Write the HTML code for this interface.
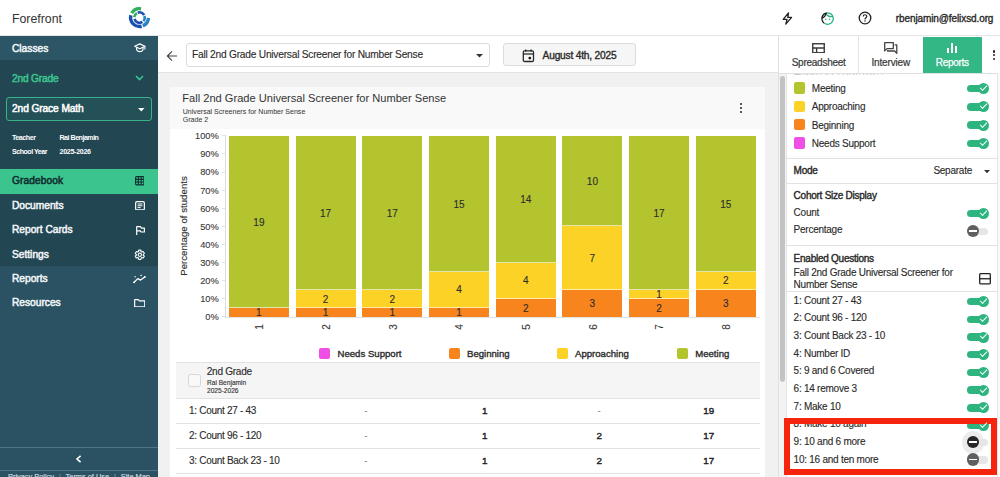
<!DOCTYPE html>
<html><head><meta charset="utf-8">
<style>
*{box-sizing:border-box;margin:0;padding:0}
html,body{width:1000px;height:477px;overflow:hidden;background:#fff;font-family:"Liberation Sans",Arial,sans-serif;color:#222}
.a{position:absolute}
.t{position:absolute;white-space:nowrap;line-height:1}
/* header */
#hdr{left:0;top:0;width:1000px;height:36px;background:#fff;border-bottom:1px solid #e6e6e6}
/* sidebar */
#sb{left:0;top:36px;width:158px;height:441px;background:#2a5262}
.sbrow{position:absolute;left:0;width:158px;height:24.5px}
.sbtxt{position:absolute;left:12px;color:#f2f6f7;-webkit-text-stroke:0.5px #f2f6f7;font-size:10.2px;letter-spacing:0px;line-height:1;white-space:nowrap;margin-top:-0.2px}
/* main */
#sub{left:158px;top:36px;width:620px;height:37px;background:#fff;border-bottom:1px solid #e3e3e3}
#main{left:158px;top:73px;width:620px;height:404px;background:#f1f1f1}
#card{left:169.5px;top:86.5px;width:595px;height:400px;background:#fff}
/* right panel */
#rp{left:778px;top:36px;width:222px;height:441px;background:#fff;border-left:1px solid #e0e0e0}
.sw{position:absolute;left:793.5px;width:11.4px;height:11.3px;border-radius:2px}
.pt{position:absolute;left:793.6px;margin-top:-0.4px;font-size:10px;letter-spacing:-0.25px;line-height:10px;color:#2b2b2b;-webkit-text-stroke:0.12px #2b2b2b;white-space:nowrap}
.pt.md{-webkit-text-stroke:0.4px #2b2b2b}
.sw+.pt{left:811.8px}
.ton,.toff{position:absolute;left:966.8px;width:21.5px;height:7.6px;margin-top:-3.5px;border-radius:3.8px;background:#2eb47f}
.ton::after{content:"";position:absolute;left:11px;top:-1.7px;width:11px;height:11px;border-radius:50%;background:#2eb47f}
.ton::before{content:"";position:absolute;z-index:2;left:13.2px;top:0.3px;width:6.2px;height:2.9px;border-left:1.7px solid #fff;border-bottom:1.7px solid #fff;transform:rotate(-45deg)}
.toff{background:#e6e6e6}
.toff::after{content:"";position:absolute;left:0px;top:-2.9px;width:12.2px;height:12.2px;border-radius:50%;background:#5f5f5f}
.toff::before{content:"";position:absolute;z-index:2;left:2.4px;top:2.5px;width:7.4px;height:1.6px;background:#fff}
.toff.dark::after{background:#262626}
.bar{position:absolute;box-shadow:inset 0 -1px 0 rgba(255,255,255,0.6)}
.bar.bt{box-shadow:none}
.bl{position:absolute;width:60px;margin-top:0.8px;text-align:center;font-size:10px;line-height:10px;color:#2e2e2e;-webkit-text-stroke:0.12px #2e2e2e}
.xl{position:absolute;width:10px;text-align:center;font-size:10px;line-height:10px;color:#383838;-webkit-text-stroke:0.1px #383838;transform:rotate(-90deg)}
.yl{position:absolute;left:186px;width:32.8px;text-align:right;font-size:9.3px;line-height:10px;color:#383838;-webkit-text-stroke:0.1px #383838}
.lg{position:absolute;top:348.2px;width:11px;height:11px;border-radius:2px}
.lt{position:absolute;top:349px;font-size:9.6px;line-height:10px;color:#2b2b2b;-webkit-text-stroke:0.35px #2b2b2b;white-space:nowrap}
.tc{position:absolute;width:20px;margin-left:-10px;text-align:center;font-size:9.8px;line-height:1;color:#222;-webkit-text-stroke:0.4px #222}
</style></head><body>

<!-- HEADER -->
<div id="hdr" class="a"></div>
<div class="t" style="left:12px;top:12.9px;font-size:12.3px;color:#333">Forefront</div>
<svg class="a" style="left:126px;top:4px" width="28" height="28" viewBox="0 0 28 28">
  <g fill="none">
<path d="M5.79 9.15 A8.9 8.9 0 0 1 15.05 4.84" stroke="#2fae5c" stroke-width="3.4"/>
<path d="M15.65 22.24 A8.9 8.9 0 0 1 4.90 11.30" stroke="#1d4fae" stroke-width="3.4"/>
<path d="M22.39 13.91 A8.9 8.9 0 0 1 16.83 21.85" stroke="#2b83c4" stroke-width="3.4"/>
<path d="M8.33 13.06 A5.2 5.2 0 0 1 10.90 9.10" stroke="#2fae5c" stroke-width="2.6"/>
<path d="M11.72 8.71 A5.2 5.2 0 0 1 18.09 11.16" stroke="#1d4fae" stroke-width="2.6"/>
<path d="M18.45 11.99 A5.2 5.2 0 0 1 17.36 17.08" stroke="#2b83c4" stroke-width="2.6"/>
<path d="M16.41 17.91 A5.2 5.2 0 0 1 8.48 14.95" stroke="#1d4fae" stroke-width="2.6"/>
  </g>
</svg>
<!-- header icons -->
<svg class="a" style="left:782px;top:12px" width="11" height="13" viewBox="0 0 11 13">
  <path d="M6.5 0.8 L1.2 7.4 H5 L3.8 12.2 L9.6 5.4 H5.8 Z" fill="none" stroke="#222" stroke-width="1.3" stroke-linejoin="round"/>
</svg>
<svg class="a" style="left:819.7px;top:10.5px" width="15.2" height="15.2" viewBox="0 0 24 24">
  <defs><linearGradient id="fg" x1="0" y1="0" x2="1" y2="0.25"><stop offset="0.43" stop-color="#1e1e1e"/><stop offset="0.43" stop-color="#27b07a"/></linearGradient></defs>
  <path fill="url(#fg)" d="M10.25 13c0 .69-.56 1.25-1.25 1.25S7.75 13.690 7.750 13s.56-1.25 1.25-1.25 1.25.56 1.25 1.25zM15 11.75c-.69 0-1.25.56-1.25 1.25s.56 1.25 1.25 1.25 1.25-.56 1.25-1.25-.56-1.25-1.25-1.25zm7 .25c0 5.52-4.48 10-10 10S2 17.52 2 12 6.48 2 12 2s10 4.48 10 10zM10.66 4.12C12.06 6.44 14.6 8 17.5 8c.46 0 .91-.05 1.34-.12C17.44 5.56 14.9 4 12 4c-.46 0-.91.05-1.340.12zM4.42 9.47c1.71-.97 3.03-2.55 3.66-4.44C6.37 6 5.05 7.58 4.42 9.47zM20 12c0-.78-.12-1.53-.33-2.24-.7.15-1.42.24-2.17.24-3.13 0-5.92-1.44-7.76-3.690C8.69 8.87 6.6 10.88 4 11.86c.01.04 0 .09 0 .14 0 4.41 3.59 8 8 8s8-3.59 8-8z"/>
</svg>
<svg class="a" style="left:857.8px;top:10.9px" width="14" height="14" viewBox="0 0 14 14">
  <circle cx="7" cy="7" r="5.8" fill="none" stroke="#222" stroke-width="1.3"/>
  <path d="M5.2 5.4 C5.2 3.2 8.8 3.2 8.8 5.3 C8.8 6.8 7 6.8 7 8.4" fill="none" stroke="#222" stroke-width="1.2"/>
  <circle cx="7" cy="10.1" r="0.75" fill="#222"/>
</svg>
<div class="t" style="left:895.8px;top:14px;font-size:10px;letter-spacing:-0.1px;color:#2a2a2a;-webkit-text-stroke:0.35px #2a2a2a">rbenjamin@felixsd.org</div>

<!-- SIDEBAR -->
<div id="sb" class="a"></div>
<div class="sbrow" style="top:36px;height:24px;background:#2c5565"></div>
<div class="sbtxt" style="top:44px">Classes</div>
<div class="a" style="left:0;top:60px;width:158px;height:206px;background:#234653"></div>
<div class="t" style="left:12px;top:74.4px;font-size:10.2px;letter-spacing:-0.2px;color:#3cc48e;-webkit-text-stroke:0.5px #3cc48e">2nd Grade</div>
<div class="a" style="left:6px;top:97.1px;width:145.6px;height:24.2px;border:1px solid #35b487;border-radius:3px;background:#245058"></div>
<div class="t" style="left:12px;top:103.6px;font-size:10.2px;letter-spacing:-0.1px;color:#fff;-webkit-text-stroke:0.5px #fff">2nd Grace Math</div>
<div class="t" style="left:12px;top:135px;font-size:7.1px;color:#fff;font-weight:bold;letter-spacing:-0.45px">Teacher</div>
<div class="t" style="left:59.5px;top:135px;font-size:7.1px;color:#fff;font-weight:bold;letter-spacing:-0.5px">Rai Benjamin</div>
<div class="t" style="left:12px;top:149.2px;font-size:7.1px;color:#fff;font-weight:bold;letter-spacing:-0.5px">School Year</div>
<div class="t" style="left:59.5px;top:149.3px;font-size:7.1px;color:#fff;font-weight:bold;letter-spacing:-0.3px">2025-2026</div>
<div class="a" style="left:0;top:169px;width:158px;height:24.5px;background:#3cc48f"></div>
<div class="sbtxt" style="top:176.2px;color:#0f2a2c;-webkit-text-stroke:0.5px #0f2a2c;letter-spacing:0.1px">Gradebook</div>
<div class="sbtxt" style="top:201px">Documents</div>
<div class="sbtxt" style="top:225.5px">Report Cards</div>
<div class="sbtxt" style="top:250px">Settings</div>
<div class="sbtxt" style="top:274.5px">Reports</div>
<div class="sbtxt" style="top:298.5px">Resources</div>
<!-- sidebar icons -->
<svg class="a" style="left:134px;top:43.4px" width="12" height="10" viewBox="0 0 12 10">
  <path d="M5.8 0.9 L10.9 3.3 L5.8 5.7 L0.7 3.3 Z" fill="none" stroke="#fff" stroke-width="1.2" stroke-linejoin="round"/>
  <path d="M2.6 4.3 V6.7 C3.9 9.3 7.7 9.3 9 6.7 V4.3" fill="none" stroke="#fff" stroke-width="1.2"/>
  <path d="M10.9 3.3 V6.6" stroke="#fff" stroke-width="1.1"/>
</svg>
<svg class="a" style="left:135px;top:75.1px" width="9" height="6" viewBox="0 0 9 6"><path d="M1 1 L4.5 4.5 L8 1" fill="none" stroke="#3cc48e" stroke-width="1.6"/></svg>
<svg class="a" style="left:138.3px;top:108px" width="6.5" height="4" viewBox="0 0 6.5 4"><path d="M0 0 H6.5 L3.25 3.6 Z" fill="#fff"/></svg>
<svg class="a" style="left:134.8px;top:176.4px" width="9.6" height="9.4" viewBox="0 0 9.6 9.4">
  <rect x="0.6" y="0.6" width="8.4" height="8.2" rx="1" fill="none" stroke="#10302f" stroke-width="1.2"/>
  <path d="M3.4 0.6 V8.8 M6.2 0.6 V8.8 M0.6 3.35 H9 M0.6 6.05 H9" stroke="#10302f" stroke-width="1.1"/>
</svg>
<svg class="a" style="left:134.6px;top:200.9px" width="10" height="9.6" viewBox="0 0 10 9.6">
  <rect x="0.65" y="0.65" width="8.7" height="8.3" rx="1.3" fill="none" stroke="#fff" stroke-width="1.2"/>
  <path d="M2.6 3 H7.4 M2.6 4.8 H7.4 M2.6 6.6 H5.6" stroke="#fff" stroke-width="1"/>
</svg>
<svg class="a" style="left:136px;top:225.9px" width="9" height="9" viewBox="0 0 9 9">
  <path d="M0.7 9 V0.7 H4.6 L5.3 2.1 H8.4 V6 H5 L4.4 4.8 H0.7" fill="none" stroke="#fff" stroke-width="1.2" stroke-linejoin="round"/>
</svg>
<svg class="a" style="left:134.2px;top:248.5px" width="11.6" height="11.6" viewBox="0 0 24 24">
  <path fill="none" stroke="#fff" stroke-width="2.3" stroke-linejoin="round" d="M19.14 12.94c.04-.3.06-.61.06-.94 0-.32-.02-.64-.07-.94l2.03-1.58a.49.49 0 0 0 .12-.61l-1.92-3.32a.488.488 0 0 0-.59-.22l-2.39.96c-.5-.38-1.03-.7-1.62-.94l-.36-2.54a.484.484 0 0 0-.48-.41h-3.84c-.24 0-.43.17-.47.41l-.36 2.54c-.59.24-1.130.57-1.62.94l-2.39-.96c-.22-.08-.47 0-.59.22L2.74 8.870c-.12.21-.08.47.12.61l2.03 1.58c-.05.3-.09.63-.09.94s.02.64.07.94l-2.03 1.58a.49.49 0 0 0-.12.61l1.92 3.32c.12.22.37.29.59.22l2.39-.96c.5.38 1.03.7 1.62.94l.36 2.54c.05.24.24.41.48.41h3.84c.24 0 .44-.17.47-.41l.36-2.54c.59-.24 1.13-.56 1.62-.94l2.39.96c.22.08.47 0 .59-.22l1.92-3.32c.12-.22.07-.47-.12-.61l-2.01-1.58z"/>
  <circle cx="12" cy="12" r="3.4" fill="none" stroke="#fff" stroke-width="2.2"/>
</svg>
<svg class="a" style="left:132px;top:272px" width="15" height="13" viewBox="0 0 15 13">
  <path d="M2.1 10.3 L5.8 6.6 L8.6 8.1 L12.8 5" fill="none" stroke="#fff" stroke-width="1.3" stroke-linejoin="round" stroke-linecap="round"/>
  <circle cx="2.1" cy="10.3" r="0.9" fill="#fff"/><circle cx="12.8" cy="5" r="0.9" fill="#fff"/>
  <circle cx="3.1" cy="4.8" r="0.7" fill="#fff"/>
  <path d="M9.1 2.2 L9.5 3 L10.3 3.4 L9.5 3.8 L9.1 4.6 L8.7 3.8 L7.9 3.4 L8.7 3 Z" fill="#fff"/>
</svg>
<svg class="a" style="left:134px;top:298.5px" width="11.4" height="8.6" viewBox="0 0 11.4 8.6">
  <path d="M0.65 0.65 H4.3 L5.4 1.9 H10.75 V7.95 H0.65 Z" fill="none" stroke="#fff" stroke-width="1.2" stroke-linejoin="round"/>
</svg>
<svg class="a" style="left:75px;top:454.8px" width="7" height="8" viewBox="0 0 7 8"><path d="M5.6 0.8 L2 4 L5.6 7.2" fill="none" stroke="#fff" stroke-width="1.6"/></svg>
<!-- sidebar footer -->
<div class="a" style="left:0;top:446.8px;width:158px;height:1px;background:#4c7683"></div>
<div class="a" style="left:0;top:470px;width:158px;height:1px;background:#4c7683"></div>
<div class="t" style="left:8px;top:472.6px;font-size:7.4px;color:#d4dfe2;-webkit-text-stroke:0.15px #d4dfe2">Privacy Policy</div>
<div class="t" style="left:59px;top:472.6px;font-size:7.4px;color:#8aa6ae">|</div>
<div class="t" style="left:65.6px;top:472.6px;font-size:7.4px;color:#d4dfe2;-webkit-text-stroke:0.15px #d4dfe2">Terms of Use</div>
<div class="t" style="left:114px;top:472.6px;font-size:7.4px;color:#8aa6ae">|</div>
<div class="t" style="left:120.8px;top:472.6px;font-size:7.4px;color:#d4dfe2;-webkit-text-stroke:0.15px #d4dfe2">Site Map</div>

<!-- SUBHEADER -->
<div id="sub" class="a" style="height:37.4px"></div>
<svg class="a" style="left:166px;top:49.5px" width="12" height="12" viewBox="0 0 12 12">
  <path d="M11 6 H1.6 M6 1.4 L1.4 6 L6 10.6" fill="none" stroke="#444" stroke-width="1.2"/>
</svg>
<div class="a" style="left:185.5px;top:43.3px;width:304px;height:23.5px;border:1px solid #dcdcdc;border-radius:3px;background:#fff"></div>
<div class="t" style="left:192px;top:50.4px;font-size:10.2px;letter-spacing:-0.23px;color:#2b2b2b;-webkit-text-stroke:0.12px #2b2b2b">Fall 2nd Grade Universal Screener for Number Sense</div>
<svg class="a" style="left:476px;top:53.5px" width="7" height="4" viewBox="0 0 7 4"><path d="M0 0 H7 L3.5 3.6 Z" fill="#333"/></svg>
<div class="a" style="left:502.8px;top:43.3px;width:133px;height:23.2px;border:1px solid #dcdcdc;border-radius:3px;background:#f6f6f6"></div>
<svg class="a" style="left:522.3px;top:49px" width="13" height="14" viewBox="0 0 13 14">
  <rect x="1.3" y="1.9" width="10.2" height="10.6" rx="1.3" fill="none" stroke="#2a2a2a" stroke-width="1.3"/>
  <path d="M1.3 5 H11.5" stroke="#2a2a2a" stroke-width="1.3"/>
  <path d="M3.7 0.5 V2.5 M9.1 0.5 V2.5" stroke="#2a2a2a" stroke-width="1.4"/>
  <circle cx="7.8" cy="9.1" r="1.35" fill="#111"/>
</svg>
<div class="t" style="left:542.6px;top:50.8px;font-size:10.2px;letter-spacing:-0.2px;color:#2a2a2a;-webkit-text-stroke:0.35px #2a2a2a">August 4th, 2025</div>
<div id="main" class="a"></div>

<!-- CARD -->
<div id="card" class="a"></div>
<div class="a" style="left:169.5px;top:86.5px;width:595px;height:42.3px;background:#f9f9f9"></div>
<div class="t" style="left:182.3px;top:93.4px;font-size:11.1px;color:#333">Fall 2nd Grade Universal Screener for Number Sense</div>
<div class="t" style="left:182.8px;top:107.9px;font-size:7px;letter-spacing:0.02px;color:#3a3a3a;-webkit-text-stroke:0.05px #3a3a3a">Universal Screeners for Number Sense</div>
<div class="t" style="left:182.8px;top:116.4px;font-size:7px;letter-spacing:0.02px;color:#3a3a3a;-webkit-text-stroke:0.05px #3a3a3a">Grade 2</div>
<div class="a" style="left:739.5px;top:102.5px;width:2.8px;height:2.8px;border-radius:50%;background:#222"></div>
<div class="a" style="left:739.5px;top:106.6px;width:2.8px;height:2.8px;border-radius:50%;background:#222"></div>
<div class="a" style="left:739.5px;top:110.7px;width:2.8px;height:2.8px;border-radius:50%;background:#222"></div>
<!-- chart -->
<div id="chart">
<div class="yl" style="top:312.20px">0%</div>
<div class="a" style="left:222.3px;top:316.30px;width:3px;height:1px;background:#e2e2e2"></div>
<div class="yl" style="top:294.11px">10%</div>
<div class="a" style="left:222.3px;top:298.21px;width:3px;height:1px;background:#e2e2e2"></div>
<div class="yl" style="top:276.02px">20%</div>
<div class="a" style="left:222.3px;top:280.12px;width:3px;height:1px;background:#e2e2e2"></div>
<div class="yl" style="top:257.93px">30%</div>
<div class="a" style="left:222.3px;top:262.03px;width:3px;height:1px;background:#e2e2e2"></div>
<div class="yl" style="top:239.84px">40%</div>
<div class="a" style="left:222.3px;top:243.94px;width:3px;height:1px;background:#e2e2e2"></div>
<div class="yl" style="top:221.75px">50%</div>
<div class="a" style="left:222.3px;top:225.85px;width:3px;height:1px;background:#e2e2e2"></div>
<div class="yl" style="top:203.66px">60%</div>
<div class="a" style="left:222.3px;top:207.76px;width:3px;height:1px;background:#e2e2e2"></div>
<div class="yl" style="top:185.57px">70%</div>
<div class="a" style="left:222.3px;top:189.67px;width:3px;height:1px;background:#e2e2e2"></div>
<div class="yl" style="top:167.48px">80%</div>
<div class="a" style="left:222.3px;top:171.58px;width:3px;height:1px;background:#e2e2e2"></div>
<div class="yl" style="top:149.39px">90%</div>
<div class="a" style="left:222.3px;top:153.49px;width:3px;height:1px;background:#e2e2e2"></div>
<div class="yl" style="top:131.30px">100%</div>
<div class="a" style="left:222.3px;top:135.40px;width:3px;height:1px;background:#e2e2e2"></div>
<div class="a" style="left:224.8px;top:135.4px;width:1px;height:181.9px;background:#dcdcdc"></div>
<div class="a" style="left:225px;top:316.5px;width:535px;height:1px;background:#e2e2e2"></div>
<div class="t" style="left:183.6px;top:225.7px;font-size:9.7px;color:#2e2e2e;-webkit-text-stroke:0.12px #2e2e2e;transform:translate(-50%,-50%) rotate(-90deg)">Percentage of students</div>
<div class="bar bt" style="left:228.9px;top:307.75px;width:60px;height:9.05px;background:#f7841d"></div>
<div class="bl" style="left:228.9px;top:307.28px">1</div>
<div class="bar tp" style="left:228.9px;top:135.90px;width:60px;height:171.85px;background:#b4c42e"></div>
<div class="bl" style="left:228.9px;top:216.83px">19</div>
<div class="xl" style="left:255.2px;top:322.2px">1</div>
<div class="bar bt" style="left:295.6px;top:307.75px;width:60px;height:9.05px;background:#f7841d"></div>
<div class="bl" style="left:295.6px;top:307.28px">1</div>
<div class="bar" style="left:295.6px;top:289.67px;width:60px;height:18.09px;background:#fcd226"></div>
<div class="bl" style="left:295.6px;top:293.71px">2</div>
<div class="bar tp" style="left:295.6px;top:135.90px;width:60px;height:153.77px;background:#b4c42e"></div>
<div class="bl" style="left:295.6px;top:207.78px">17</div>
<div class="xl" style="left:321.9px;top:322.2px">2</div>
<div class="bar bt" style="left:362.3px;top:307.75px;width:60px;height:9.05px;background:#f7841d"></div>
<div class="bl" style="left:362.3px;top:307.28px">1</div>
<div class="bar" style="left:362.3px;top:289.67px;width:60px;height:18.09px;background:#fcd226"></div>
<div class="bl" style="left:362.3px;top:293.71px">2</div>
<div class="bar tp" style="left:362.3px;top:135.90px;width:60px;height:153.77px;background:#b4c42e"></div>
<div class="bl" style="left:362.3px;top:207.78px">17</div>
<div class="xl" style="left:388.6px;top:322.2px">3</div>
<div class="bar bt" style="left:429.0px;top:307.75px;width:60px;height:9.05px;background:#f7841d"></div>
<div class="bl" style="left:429.0px;top:307.28px">1</div>
<div class="bar" style="left:429.0px;top:271.57px;width:60px;height:36.18px;background:#fcd226"></div>
<div class="bl" style="left:429.0px;top:284.66px">4</div>
<div class="bar tp" style="left:429.0px;top:135.90px;width:60px;height:135.67px;background:#b4c42e"></div>
<div class="bl" style="left:429.0px;top:198.74px">15</div>
<div class="xl" style="left:455.3px;top:322.2px">4</div>
<div class="bar bt" style="left:495.7px;top:298.71px;width:60px;height:18.09px;background:#f7841d"></div>
<div class="bl" style="left:495.7px;top:302.75px">2</div>
<div class="bar" style="left:495.7px;top:262.53px;width:60px;height:36.18px;background:#fcd226"></div>
<div class="bl" style="left:495.7px;top:275.62px">4</div>
<div class="bar tp" style="left:495.7px;top:135.90px;width:60px;height:126.63px;background:#b4c42e"></div>
<div class="bl" style="left:495.7px;top:194.22px">14</div>
<div class="xl" style="left:522.0px;top:322.2px">5</div>
<div class="bar bt" style="left:562.4px;top:289.67px;width:60px;height:27.13px;background:#f7841d"></div>
<div class="bl" style="left:562.4px;top:298.23px">3</div>
<div class="bar" style="left:562.4px;top:226.35px;width:60px;height:63.31px;background:#fcd226"></div>
<div class="bl" style="left:562.4px;top:253.01px">7</div>
<div class="bar tp" style="left:562.4px;top:135.90px;width:60px;height:90.45px;background:#b4c42e"></div>
<div class="bl" style="left:562.4px;top:176.12px">10</div>
<div class="xl" style="left:588.7px;top:322.2px">6</div>
<div class="bar bt" style="left:629.1px;top:298.71px;width:60px;height:18.09px;background:#f7841d"></div>
<div class="bl" style="left:629.1px;top:302.75px">2</div>
<div class="bar" style="left:629.1px;top:289.67px;width:60px;height:9.05px;background:#fcd226"></div>
<div class="bl" style="left:629.1px;top:289.19px">1</div>
<div class="bar tp" style="left:629.1px;top:135.90px;width:60px;height:153.77px;background:#b4c42e"></div>
<div class="bl" style="left:629.1px;top:207.78px">17</div>
<div class="xl" style="left:655.4px;top:322.2px">7</div>
<div class="bar bt" style="left:695.8px;top:289.67px;width:60px;height:27.13px;background:#f7841d"></div>
<div class="bl" style="left:695.8px;top:298.23px">3</div>
<div class="bar" style="left:695.8px;top:271.57px;width:60px;height:18.09px;background:#fcd226"></div>
<div class="bl" style="left:695.8px;top:275.62px">2</div>
<div class="bar tp" style="left:695.8px;top:135.90px;width:60px;height:135.67px;background:#b4c42e"></div>
<div class="bl" style="left:695.8px;top:198.74px">15</div>
<div class="xl" style="left:722.1px;top:322.2px">8</div>
</div>
<!-- legend -->
<div class="lg" style="left:319.2px;background:#f04fe6"></div><div class="lt" style="left:337.5px">Needs Support</div>
<div class="lg" style="left:449.2px;background:#f7841d"></div><div class="lt" style="left:467px">Beginning</div>
<div class="lg" style="left:557.2px;background:#fcd226"></div><div class="lt" style="left:575px">Approaching</div>
<div class="lg" style="left:677px;background:#b4c42e"></div><div class="lt" style="left:695.2px">Meeting</div>
<!-- table -->
<div class="a" style="left:176px;top:362.3px;width:584px;height:36.4px;background:#f5f5f5;border-top:1px solid #e2e2e2;border-bottom:1px solid #e2e2e2"></div>
<div class="a" style="left:188px;top:374px;width:12.5px;height:12.5px;border:1px solid #d6d6d6;border-radius:2.5px;background:#f9f9f9"></div>
<div class="t" style="left:206.8px;top:367.3px;font-size:10.1px;letter-spacing:-0.3px;color:#2b2b2b;-webkit-text-stroke:0.12px #2b2b2b">2nd Grade</div>
<div class="t" style="left:207px;top:379.9px;font-size:6.6px;color:#333;-webkit-text-stroke:0.12px #333">Rai Benjamin</div>
<div class="t" style="left:207px;top:388px;font-size:6.6px;color:#333;-webkit-text-stroke:0.12px #333">2025-2026</div>
<div class="a" style="left:176px;top:423.3px;width:584px;height:1px;background:#e2e2e2"></div>
<div class="a" style="left:176px;top:448px;width:584px;height:1px;background:#e2e2e2"></div>
<div class="a" style="left:176px;top:472.8px;width:584px;height:1px;background:#e2e2e2"></div>
<div class="t" style="left:189px;top:406.3px;font-size:10px;letter-spacing:-0.3px;color:#2b2b2b;-webkit-text-stroke:0.12px #2b2b2b">1: Count 27 - 43</div>
<div class="t" style="left:189px;top:431.4px;font-size:10px;letter-spacing:-0.3px;color:#2b2b2b;-webkit-text-stroke:0.12px #2b2b2b">2: Count 96 - 120</div>
<div class="t" style="left:189px;top:456.3px;font-size:10px;letter-spacing:-0.3px;color:#2b2b2b;-webkit-text-stroke:0.12px #2b2b2b">3: Count Back 23 - 10</div>
<div class="tc" style="left:366px;top:405.5px;color:#777;-webkit-text-stroke:0;">-</div>
<div class="tc" style="left:366px;top:430.6px;color:#777;-webkit-text-stroke:0;">-</div>
<div class="tc" style="left:366px;top:455.5px;color:#777;-webkit-text-stroke:0;">-</div>
<div class="tc" style="left:484.8px;top:405.5px">1</div>
<div class="tc" style="left:484.8px;top:430.6px">1</div>
<div class="tc" style="left:484.8px;top:455.5px">1</div>
<div class="tc" style="left:599.2px;top:405.5px;color:#777;-webkit-text-stroke:0;">-</div>
<div class="tc" style="left:599.2px;top:430.6px">2</div>
<div class="tc" style="left:599.2px;top:455.5px">2</div>
<div class="tc" style="left:708.8px;top:405.5px">19</div>
<div class="tc" style="left:708.8px;top:430.6px">17</div>
<div class="tc" style="left:708.8px;top:455.5px">17</div>

<!-- RIGHT PANEL -->
<div id="rp" class="a"></div>
<!-- scroll track -->
<div class="a" style="left:778.5px;top:73px;width:8px;height:404px;background:#f3f3f3;border-right:1px solid #e4e4e4"></div>
<div class="a" style="left:780.1px;top:75.8px;width:4.8px;height:305.8px;border-radius:2.4px;background:#c3c3c3"></div>
<!-- panel content -->
<div class="pt md" style="top:66.6px">Enabled Proficiencies</div>
<!-- tabs -->
<div class="a" style="left:778.5px;top:36px;width:221.5px;height:37.8px;background:#fff;border-bottom:1px solid #e0e0e0"></div>
<div class="a" style="left:858.3px;top:36px;width:1px;height:37px;background:#e4e4e4"></div>
<div class="a" style="left:922.8px;top:36.8px;width:58.8px;height:36px;background:#33b784"></div>
<svg class="a" style="left:812.3px;top:42.8px" width="13" height="10.5" viewBox="0 0 13 10.5">
  <rect x="0.75" y="0.75" width="11.5" height="9" fill="none" stroke="#3a3a3a" stroke-width="1.4"/>
  <path d="M0.75 5 H12.25 M4.6 5 V9.75" stroke="#3a3a3a" stroke-width="1.4" fill="none"/>
</svg>
<div class="t" style="left:791.7px;top:57.9px;font-size:10px;letter-spacing:-0.25px;color:#383838;-webkit-text-stroke:0.2px #383838">Spreadsheet</div>
<svg class="a" style="left:884px;top:42px" width="13.5" height="12" viewBox="0 0 13.5 12">
  <path d="M0.7 0.7 H9.3 V6.6 H3 L0.7 8.9 Z" fill="none" stroke="#444" stroke-width="1.3" stroke-linejoin="round"/>
  <path d="M10.6 2.8 H12.8 V11.3 L10.6 9 H3.6 V7.9" fill="none" stroke="#444" stroke-width="1.3" stroke-linejoin="round"/>
</svg>
<div class="t" style="left:871.4px;top:57.9px;font-size:10px;letter-spacing:-0.15px;color:#383838;-webkit-text-stroke:0.2px #383838">Interview</div>
<div class="a" style="left:947px;top:47.8px;width:2.2px;height:5.2px;background:#fff"></div>
<div class="a" style="left:951px;top:43.2px;width:2.2px;height:9.8px;background:#fff"></div>
<div class="a" style="left:955px;top:45.8px;width:2.2px;height:7.2px;background:#fff"></div>
<div class="t" style="left:935.7px;top:57.9px;font-size:10px;letter-spacing:-0.28px;color:#fff;-webkit-text-stroke:0.25px #fff">Reports</div>
<div class="a" style="left:993px;top:50.3px;width:2.3px;height:2.3px;border-radius:50%;background:#222"></div>
<div class="a" style="left:993px;top:54.2px;width:2.3px;height:2.3px;border-radius:50%;background:#222"></div>
<div class="a" style="left:993px;top:58.1px;width:2.3px;height:2.3px;border-radius:50%;background:#222"></div>
<!-- proficiencies -->
<div class="sw" style="top:82.3px;background:#b4c42e"></div><div class="pt" style="top:84.4px">Meeting</div>
<div class="sw" style="top:100.6px;background:#fcd226"></div><div class="pt" style="top:102.7px">Approaching</div>
<div class="sw" style="top:119px;background:#f7841d"></div><div class="pt" style="top:121px">Beginning</div>
<div class="sw" style="top:137.4px;background:#f04fe6"></div><div class="pt" style="top:139.4px">Needs Support</div>
<div class="ton" style="top:88.3px"></div>
<div class="ton" style="top:106.6px"></div>
<div class="ton" style="top:124.9px"></div>
<div class="ton" style="top:143.2px"></div>
<div class="a" style="left:787px;top:157.8px;width:210.5px;height:1px;background:#e2e2e2"></div>
<div class="pt md" style="top:166.2px">Mode</div>
<div class="t" style="left:933.4px;top:166px;font-size:10px;letter-spacing:-0.25px;color:#2b2b2b;-webkit-text-stroke:0.12px #2b2b2b">Separate</div>
<svg class="a" style="left:983.7px;top:170px" width="6" height="4" viewBox="0 0 6 4"><path d="M0 0 H6 L3 3.2 Z" fill="#333"/></svg>
<div class="a" style="left:787px;top:182.8px;width:210.5px;height:1px;background:#e2e2e2"></div>
<div class="pt md" style="top:191.5px">Cohort Size Display</div>
<div class="pt" style="top:208.3px">Count</div>
<div class="pt" style="top:225.5px">Percentage</div>
<div class="ton" style="top:213px"></div>
<div class="toff" style="top:231.3px"></div>
<div class="a" style="left:787px;top:245.2px;width:210.5px;height:1px;background:#e2e2e2"></div>
<div class="pt md" style="top:254.6px">Enabled Questions</div>
<div class="pt" style="top:268.4px">Fall 2nd Grade Universal Screener for</div>
<div class="pt" style="top:280.2px">Number Sense</div>
<svg class="a" style="left:979.3px;top:273.3px" width="12" height="11.5" viewBox="0 0 12 11.5">
  <rect x="0.7" y="0.7" width="10.6" height="10.1" rx="0.8" fill="none" stroke="#222" stroke-width="1.3"/>
  <path d="M0.7 5.75 H11.3" stroke="#222" stroke-width="1.3"/>
</svg>
<div class="a" style="left:787px;top:291px;width:210.5px;height:1px;background:#e2e2e2"></div>
<div class="pt" style="top:295.9px">1: Count 27 - 43</div>
<div class="pt" style="top:313.6px">2: Count 96 - 120</div>
<div class="pt" style="top:331.3px">3: Count Back 23 - 10</div>
<div class="pt" style="top:349.0px">4: Number ID</div>
<div class="pt" style="top:366.7px">5: 9 and 6 Covered</div>
<div class="pt" style="top:384.4px">6: 14 remove 3</div>
<div class="pt" style="top:402.1px">7: Make 10</div>
<div class="pt" style="top:419.8px">8: Make 10 again</div>
<div class="pt" style="top:437.5px">9: 10 and 6 more</div>
<div class="pt" style="top:455.2px">10: 16 and ten more</div>
<div class="ton" style="top:301.3px"></div>
<div class="ton" style="top:319px"></div>
<div class="ton" style="top:336.7px"></div>
<div class="ton" style="top:354.4px"></div>
<div class="ton" style="top:372.1px"></div>
<div class="ton" style="top:389.8px"></div>
<div class="ton" style="top:407.5px"></div>
<div class="ton" style="top:425.2px"></div>
<div class="a" style="left:961.8px;top:431px;width:22.5px;height:22.5px;border-radius:50%;background:rgba(0,0,0,0.08)"></div>
<div class="toff dark" style="top:442.2px"></div>
<div class="toff" style="top:459.8px"></div>
<div class="a" style="left:997px;top:73px;width:3px;height:404px;background:#fafafa;border-left:1px solid #e6e6e6"></div>
<!-- red highlight box -->
<div class="a" style="left:784px;top:418px;width:212.8px;height:56.8px;border:6px solid #f6230d"></div>

</body></html>
